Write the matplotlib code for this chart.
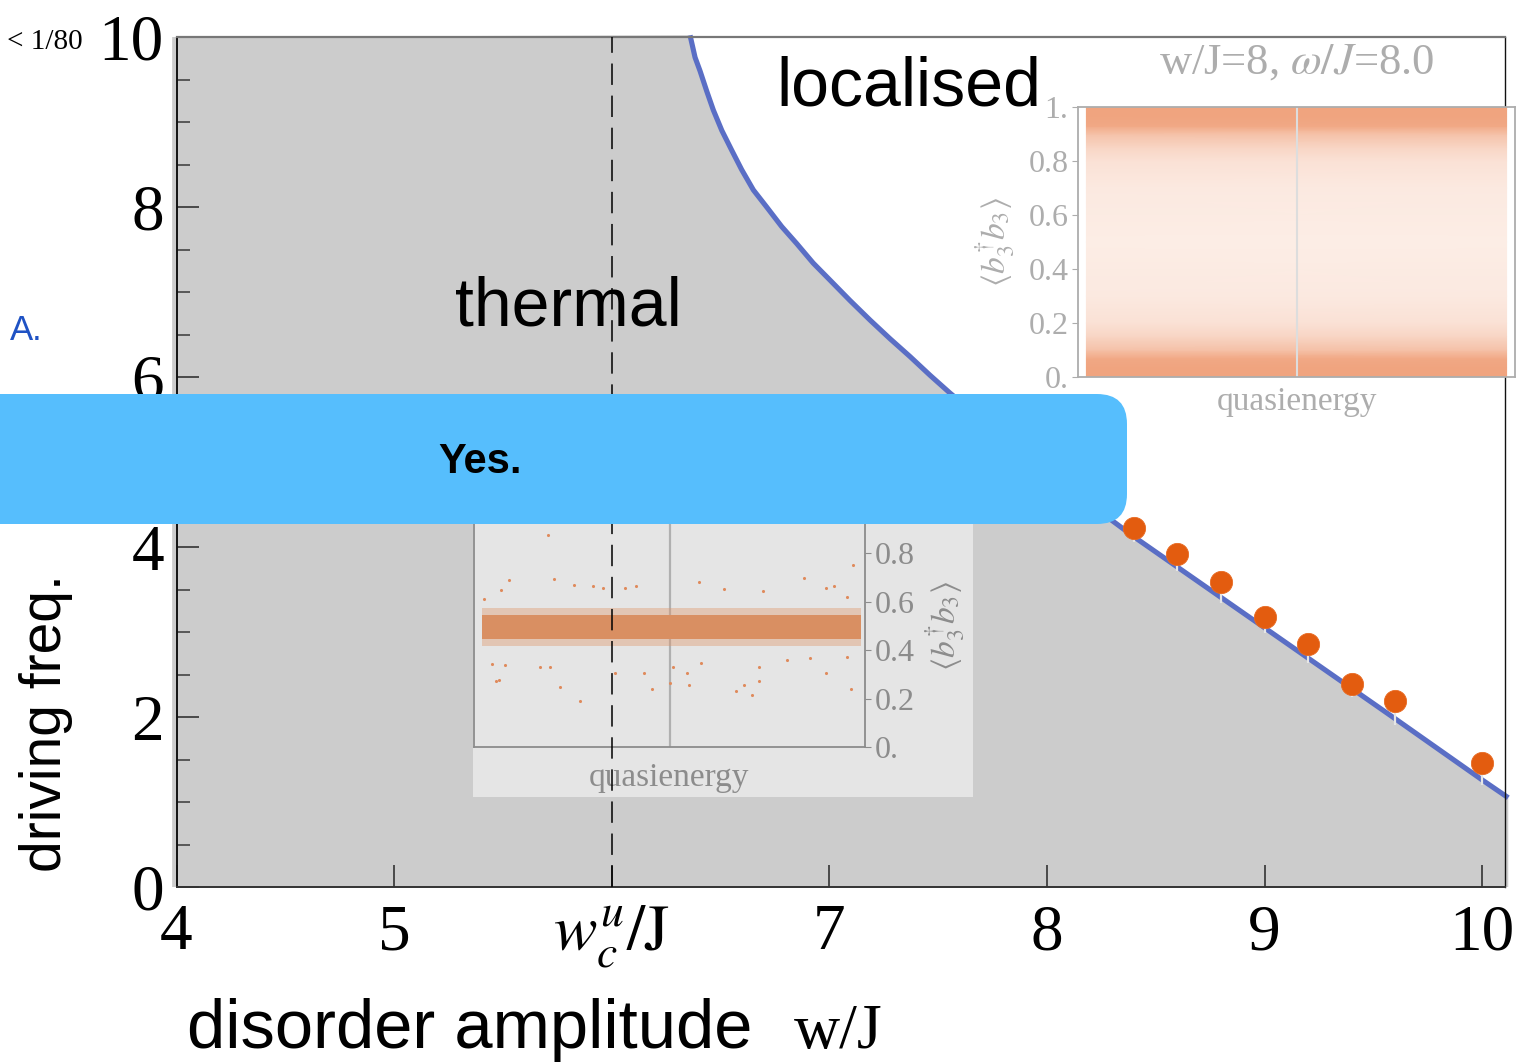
import numpy as np
import matplotlib
matplotlib.use("Agg")
import matplotlib.pyplot as plt
from matplotlib.patches import FancyBboxPatch
from matplotlib.colors import LinearSegmentedColormap

plt.rcParams["font.family"] = ["Liberation Serif", "DejaVu Serif"]
plt.rcParams["mathtext.fontset"] = "stix"

# ---- phase boundary (disorder w/J vs driving frequency omega/J)
w_boundary = [6.360, 6.383, 6.406, 6.437, 6.467, 6.506, 6.551, 6.597, 6.651,
              6.712, 6.781, 6.850, 6.926, 7.003, 7.095, 7.187, 7.279, 7.371,
              7.463, 7.555, 7.800, 8.000, 8.400, 9.000, 9.600, 10.000, 10.120]
omega_boundary = [10.02, 9.76, 9.60, 9.36, 9.14, 8.90, 8.67, 8.44, 8.20,
                  8.00, 7.77, 7.57, 7.34, 7.14, 6.90, 6.67, 6.45, 6.24,
                  6.02, 5.81, 5.29, 4.88, 4.12, 3.05, 1.98, 1.26, 1.05]

# ---- numerically located transition points
w_points = [8.4, 8.6, 8.8, 9.0, 9.2, 9.4, 9.6, 10.0]
omega_points = [4.22, 3.92, 3.59, 3.18, 2.86, 2.39, 2.19, 1.46]
omega_err_low = [0.16, 0.20, 0.25, 0.19, 0.22, 0.15, 0.28, 0.26]

# ---- axis ticks
x_ticks = [4, 5, 6, 7, 8, 9, 10]
x_tick_labels = ["4", "5", r"$w_c^u/\mathrm{J}$", "7", "8", "9", "10"]
y_ticks = [0, 2, 4, 6, 8, 10]
y_tick_labels = ["0", "2", "4", "6", "8", "10"]
w_critical = 6.0

# ---- inset (localised side): density of <b3^+ b3> over quasienergy
loc_levels = [0.0, 0.035, 0.068, 0.10, 0.15, 0.20, 0.30, 0.50, 0.70, 0.80,
              0.85, 0.90, 0.93, 0.965, 1.0]
loc_density = [1.0, 1.0, 0.95, 0.68, 0.46, 0.33, 0.24, 0.20, 0.24, 0.33,
               0.46, 0.68, 0.95, 1.0, 1.0]
inset_ticks = [0.0, 0.2, 0.4, 0.6, 0.8, 1.0]
inset_tick_labels = ["0.", "0.2", "0.4", "0.6", "0.8", "1."]

# ---- inset (thermal side): narrow band around 1/2 plus scattered outliers
therm_band = (0.445, 0.545)
therm_fuzz = (0.418, 0.575)
therm_out_x = [-0.62, -0.82, -0.59, -0.86, -0.49, -0.39, -0.34, -0.23, -0.17,
               0.15, 0.28, 0.48, 0.69, 0.80, 0.84, 0.94, 0.91, -0.95, -0.89,
               -0.87, -0.56, -0.46, -0.09, 0.00, 0.10, 0.34, 0.38, 0.42, 0.46,
               0.80, 0.93, -0.28, -0.13, -0.91, -0.84, -0.66, -0.61, 0.02,
               0.16, 0.09, 0.46, 0.60, 0.72, 0.91]
therm_out_y = [0.877, 0.689, 0.693, 0.647, 0.668, 0.664, 0.657, 0.659, 0.665,
               0.682, 0.652, 0.643, 0.700, 0.659, 0.664, 0.751, 0.620, 0.610,
               0.272, 0.276, 0.249, 0.190, 0.238, 0.265, 0.256, 0.232, 0.258,
               0.214, 0.272, 0.304, 0.239, 0.306, 0.306, 0.345, 0.340, 0.331,
               0.331, 0.331, 0.349, 0.306, 0.331, 0.359, 0.366, 0.372]

W, H = 1533, 1063
fig = plt.figure(figsize=(W / 100, H / 100), dpi=100)


def frac(x0, y0, x1, y1):
    """Pixel box (top-left origin) -> figure-fraction rectangle."""
    return [x0 / W, 1 - y1 / H, (x1 - x0) / W, (y1 - y0) / H]


# ================= main phase diagram =================
ax = fig.add_axes(frac(176.5, 37, 1505, 887))
ax.set_xlim(4, 10.105)
ax.set_ylim(0, 10)

ax.fill([3.98, 3.98] + w_boundary + [w_boundary[-1]],
        [0, 10] + omega_boundary + [0],
        color="#cccccc", lw=0, zorder=1, clip_on=False)
ax.plot(w_boundary, omega_boundary, color="#5a6ec5", lw=3.7,
        zorder=2, clip_on=False, solid_capstyle="butt",
        solid_joinstyle="round")
ax.errorbar(w_points, omega_points,
            yerr=[omega_err_low, [0] * len(omega_err_low)],
            fmt="none", ecolor="#e6e6e6", elinewidth=1.6, capsize=0, zorder=3)
ax.plot(w_points, omega_points, "o", color="#e35c0f", ms=16, mec="#e86a22",
        mew=0.6, zorder=4)

ax.set_xticks(x_ticks)
ax.set_xticklabels(x_tick_labels)
ax.set_yticks(y_ticks)
ax.set_yticklabels(y_tick_labels)
ax.set_yticks(np.arange(0, 10.01, 0.5), minor=True)
ax.tick_params(axis="both", which="major", direction="in", length=16,
               width=1.2, color="#333333", labelsize=47)
ax.tick_params(axis="y", which="minor", direction="in", length=9,
               width=1.2, color="#444444")
ax.tick_params(axis="y", which="major", pad=9)
ax.tick_params(axis="x", which="major", pad=12)
ax.tick_params(axis="x", which="minor", length=0)
for side, col, lw in [("left", "#111111", 1.4), ("bottom", "#333333", 1.4),
                      ("top", "#777777", 1.6), ("right", "#111111", 1.0)]:
    ax.spines[side].set_color(col)
    ax.spines[side].set_linewidth(lw)

ax.text(5.80, 6.61, "thermal", family="Liberation Sans", fontsize=49,
        ha="center", va="baseline", zorder=5)
ax.text(7.365, 9.2, "localised", family="Liberation Sans", fontsize=49,
        ha="center", va="baseline", zorder=5)

fig.text(187 / W, 1 - 1048 / H, "disorder amplitude", family="Liberation Sans",
         fontsize=49.5, ha="left", va="baseline")
fig.text(794 / W, 1 - 1048 / H, "w/J", fontsize=46, ha="left", va="baseline")
fig.text(46 / W, 1 - 723 / H, "driving freq.", family="Liberation Sans",
         fontsize=41, rotation=90, ha="center", va="center")
fig.text(7 / W, 1 - 42 / H, "< 1/80", fontsize=21, ha="left", va="center")
fig.text(10 / W, 1 - 330 / H, "A.", family="Liberation Sans", fontsize=25,
         color="#1f52c4", ha="left", va="center")

# ================= inset: localised regime =================
gray_loc = "#adadad"
axr = fig.add_axes(frac(1078, 107, 1515, 377))
axr.set_facecolor("none")
axr.set_xlim(-1.04, 1.04)
axr.set_ylim(0, 1)
n = len(loc_levels)
Xg = np.tile([-1.0, 1.0], (n, 1))
Yg = np.column_stack([loc_levels, loc_levels])
Cg = np.column_stack([loc_density, loc_density])
cmap_loc = LinearSegmentedColormap.from_list("loc", ["#ffffff", "#f0a47f"])
axr.pcolormesh(Xg, Yg, Cg, shading="gouraud", cmap=cmap_loc, vmin=0, vmax=1,
               zorder=1)
axr.axvline(0, color="#dddddd", lw=1.5, zorder=2)
axr.set_xticks([])
axr.set_yticks(inset_ticks)
axr.set_yticklabels(inset_tick_labels)
axr.tick_params(axis="y", direction="out", length=4, color=gray_loc,
                labelcolor=gray_loc, labelsize=23, pad=3)
for s in axr.spines.values():
    s.set_color(gray_loc)
    s.set_linewidth(1.3)
axr.set_title(r"w/J=8, $\omega/J$=8.0", color=gray_loc, fontsize=32, pad=24)
axr.set_xlabel("quasienergy", color=gray_loc, fontsize=24, labelpad=7)
axr.set_ylabel(r"$\langle b_3^{\dagger} b_3\rangle$", color=gray_loc,
               fontsize=24, labelpad=8)

# ================= inset: thermal regime =================
gray_th = "#8c8c8c"
axbox = fig.add_axes(frac(473, 440, 973, 797))
axbox.set_facecolor("#e5e5e5")
axbox.set_xticks([])
axbox.set_yticks([])
for s in axbox.spines.values():
    s.set_visible(False)

axl = fig.add_axes(frac(474, 505, 865, 747))
axl.set_facecolor("none")
axl.set_xlim(-1.0, 1.0)
axl.set_ylim(0, 1)
axl.axvline(0, color="#b0b0b0", lw=1.6, zorder=1)
axl.fill_between([-0.96, 0.98], therm_fuzz[0], therm_fuzz[1],
                 color="#de956a", alpha=0.4, lw=0, zorder=2)
axl.fill_between([-0.96, 0.98], therm_band[0], therm_band[1],
                 color="#d98f62", lw=0, zorder=3)
axl.scatter(therm_out_x, therm_out_y, s=5, color="#df8a5c", lw=0, zorder=3)
axl.set_xticks([])
axl.yaxis.tick_right()
axl.yaxis.set_label_position("right")
axl.set_yticks(inset_ticks)
axl.set_yticklabels(inset_tick_labels)
axl.tick_params(axis="y", direction="out", length=4, color=gray_th,
                labelcolor=gray_th, labelsize=23, pad=3)
for s in axl.spines.values():
    s.set_color(gray_th)
    s.set_linewidth(1.3)
axl.set_xlabel("quasienergy", color=gray_th, fontsize=24, labelpad=11)
axl.set_ylabel(r"$\langle b_3^{\dagger} b_3\rangle$", color=gray_th,
               fontsize=24, labelpad=6, rotation=90)

# ================= critical disorder marker (drawn over insets) =================
axd = fig.add_axes(ax.get_position())
axd.set_xlim(ax.get_xlim())
axd.set_ylim(ax.get_ylim())
axd.axis("off")
axd.axvline(w_critical, color="black", lw=1.1, ls=(0, (14, 7)))

# ================= answer banner =================
axo = fig.add_axes([0, 0, 1, 1])
axo.set_xlim(0, W)
axo.set_ylim(H, 0)
axo.axis("off")
axo.add_patch(FancyBboxPatch((-60, 394), 1187, 130,
                             boxstyle="round,pad=0,rounding_size=30",
                             facecolor="#56befd", edgecolor="none"))
axo.text(480, 462, "Yes.", family="Liberation Sans", fontweight="bold",
         fontsize=30, ha="center", va="center", color="black")

fig.savefig("out.png", dpi=100)
